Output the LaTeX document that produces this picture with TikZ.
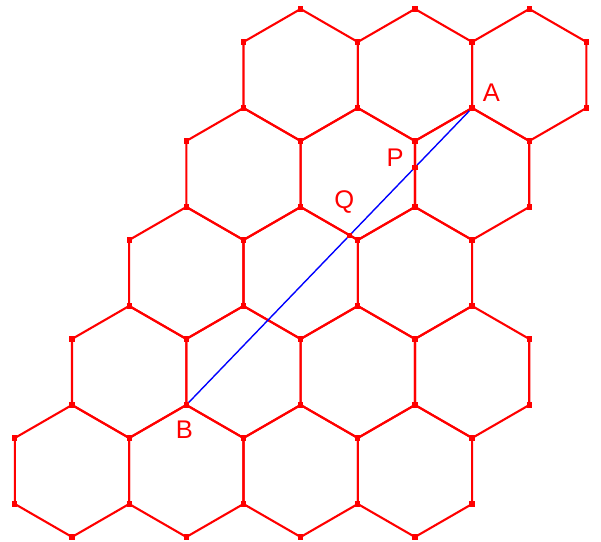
\documentclass[tikz,border=0pt]{standalone}
\usepackage{fontspec}
\setmainfont{Liberation Sans}
\usetikzlibrary{calc}

\tikzset{
  hexline/.style={red, line width=0.9pt, line join=round},
  segline/.style={blue, line width=0.6pt},
  lbl/.style={red, font=\fontsize{11}{13}\selectfont},
}
\newcommand{\vdot}[1]{\fill[red] (#1) +(-0.04,-0.04) rectangle +(0.04,0.04);}

\begin{document}
\begin{tikzpicture}[x=1cm,y=1cm]
  \useasboundingbox (-1.091,-1.076) rectangle (8.015,7.136);
  % rows 0,1 have four cells, rows 2-4 three
  \foreach \r/\n in {0/3,1/3,2/2,3/2,4/2}
    \foreach \c in {0,...,\n} {
      \coordinate (h) at ({(2*\c+\r)*sqrt(3)/2}, {1.5*\r});
      \draw[hexline] (h) +(30:1) -- +(90:1) -- +(150:1) -- +(210:1)
        -- +(270:1) -- +(330:1) -- cycle;
      \foreach \a in {30,90,...,330} {\vdot{$(h)+(\a:1)$}}
    }

  \coordinate (A) at ({7*sqrt(3)/2}, 5.5);
  \coordinate (B) at ({sqrt(3)}, 1);
  \coordinate (pe1) at ({3*sqrt(3)}, 4);
  \coordinate (pe2) at ({3*sqrt(3)}, 5);
  \coordinate (qe1) at ({2*sqrt(3)}, 4);
  \coordinate (qe2) at ({5*sqrt(3)/2}, 3.5);
  \coordinate (P) at (intersection of A--B and pe1--pe2);
  \coordinate (Q) at (intersection of A--B and qe1--qe2);

  \draw[segline] (A) -- (B);
  \vdot{A} \vdot{B} \vdot{P} \vdot{Q}

  \node[lbl] (labA) at ($(A)+(0.29,0.23)$) {A};
  \node[lbl] (labB) at ($(B)+(-0.03,-0.38)$) {B};
  \node[lbl] (labP) at ($(P)+(-0.30,0.14)$) {P};
  \node[lbl] (labQ) at ($(Q)+(-0.08,0.50)$) {Q};
\end{tikzpicture}
\end{document}
